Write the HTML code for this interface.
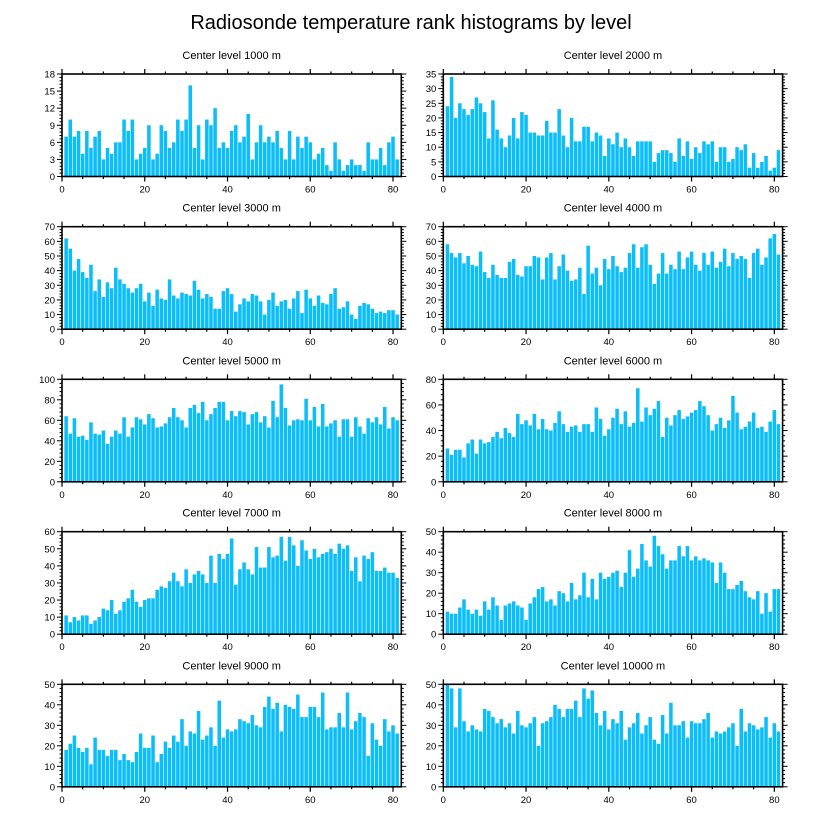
<!DOCTYPE html>
<html><head><meta charset="utf-8"><style>
body{margin:0;background:#fff;}
svg{display:block;font-family:"Liberation Sans",Arial,sans-serif;}
</style></head><body>
<svg id="chart" width="822" height="824" viewBox="0 0 822 824">
<rect width="822" height="824" fill="#fff"/>
<text x="411" y="29" text-anchor="middle" font-size="20">Radiosonde temperature rank histograms by level</text>
</svg>
<script>
const levels = [1000,2000,3000,4000,5000,6000,7000,8000,9000,10000];
const yMaxes = [18,35,70,70,100,80,60,50,50,50];
const yStepMajor = [3,5,10,10,20,20,10,10,10,10];
const xTicks = [0,20,40,60,80];
const s1000 = [7,10,7,8,4,8,5,7,8,3,5,4,6,6,10,8,10,3,4,5,9,3,4,9,8,5,6,10,8,10,16,5,9,3,10,9,12,5,6,5,8,9,6,7,11,3,6,9,6,7,6,8,5,3,8,3,7,5,7,6,3,4,5,2,1,6,3,1,2,3,2,2,1,6,3,3,5,2,6,7,3];
const s2000 = [24,34,20,25,23,21,23,27,25,22,13,26,16,13,10,14,20,13,22,21,15,15,14,14,19,15,15,23,14,10,20,12,12,17,17,12,15,14,7,13,11,15,10,13,10,7,12,12,12,12,5,8,9,9,8,5,13,7,12,6,10,8,12,11,12,5,10,10,5,6,10,9,11,3,8,3,5,7,2,3,9];
const s3000 = [62,55,40,48,39,35,44,26,34,22,32,28,42,34,31,28,25,28,31,19,25,16,27,21,20,34,23,21,25,24,23,33,27,21,24,22,14,14,26,28,24,12,17,21,19,24,23,19,10,20,25,16,19,20,14,21,26,11,27,21,16,23,18,17,24,28,14,15,19,10,7,16,18,17,14,11,12,11,13,13,10];
const s4000 = [58,52,49,52,45,50,44,43,53,39,35,44,37,35,35,46,48,37,36,43,43,50,49,34,49,52,34,43,51,40,33,34,42,24,57,38,42,30,48,41,50,43,39,42,52,58,42,56,58,44,31,38,52,38,44,41,53,41,49,53,44,40,52,44,53,42,46,55,43,52,48,50,48,35,52,55,44,49,62,65,51];
const s5000 = [64,47,62,44,45,41,58,47,46,50,37,44,50,47,63,44,53,63,61,56,66,62,53,54,57,63,72,63,60,53,72,75,67,78,60,66,72,78,78,60,69,64,69,68,56,66,68,58,64,53,79,63,95,72,55,60,61,60,81,60,73,54,76,54,57,60,44,61,61,44,63,54,47,62,58,63,56,73,52,63,60];
const s6000 = [26,21,25,25,19,30,33,22,33,30,31,35,39,34,42,38,35,53,45,48,44,53,41,49,41,40,46,55,45,39,43,44,39,45,45,39,58,49,36,41,50,57,45,55,43,46,73,47,58,52,57,63,35,50,44,52,56,49,51,54,56,63,59,52,40,45,50,42,48,67,54,41,43,47,54,42,43,39,47,56,45];
const s7000 = [11,7,10,8,11,11,6,8,10,15,14,20,12,14,19,21,26,19,16,20,21,21,26,28,27,31,36,31,28,38,30,35,37,35,30,46,30,47,44,47,56,29,38,42,38,35,51,39,39,51,45,46,57,43,57,52,40,55,49,44,50,45,47,48,50,47,53,50,52,37,45,31,46,44,48,37,37,39,36,36,33];
const s8000 = [11,10,10,13,17,12,10,12,9,16,12,18,14,7,14,15,16,14,13,7,15,18,22,23,16,17,14,21,20,16,25,17,19,30,18,27,17,30,27,28,30,31,23,30,41,28,32,44,36,33,48,43,39,32,36,36,43,38,43,36,38,36,37,36,35,25,35,30,22,22,24,26,21,18,17,21,10,20,11,22,22];
const s9000 = [18,21,25,19,17,19,11,24,18,18,15,18,18,13,16,13,12,17,26,19,19,25,12,16,22,19,25,22,33,20,27,26,37,23,25,29,20,42,24,28,27,28,33,32,31,35,30,29,39,44,38,41,27,40,39,38,45,34,34,39,39,34,46,28,29,29,36,29,46,28,32,36,34,15,31,23,20,33,27,30,26];
const s10000 = [50,48,29,48,32,27,30,28,27,38,37,34,31,33,29,31,26,37,30,29,31,34,20,31,32,34,40,38,34,38,38,42,34,48,43,47,36,30,37,28,33,31,37,23,29,31,36,26,30,34,23,21,35,26,41,30,30,32,24,32,31,31,33,36,24,27,26,27,29,31,20,38,27,31,30,28,29,34,24,31,27];
const seriesList = [s1000,s2000,s3000,s4000,s5000,s6000,s7000,s8000,s9000,s10000];

const NS = "http://www.w3.org/2000/svg";
const svg = document.getElementById('chart');
function mk(tag, attrs, parent){
  const e = document.createElementNS(NS, tag);
  for (const k in attrs) e.setAttribute(k, attrs[k]);
  parent.appendChild(e);
  return e;
}
const colX = [62, 443.3];
const rowY = [74, 226.7, 379.3, 531.7, 684.3];
const PW = 339.3, PH = 102.5, XMAX = 82;

seriesList.forEach((data, p) => {
  const L = colX[p % 2], T = rowY[Math.floor(p / 2)];
  const yMax = yMaxes[p], step = yStepMajor[p];
  const xs = v => L + v / XMAX * PW;
  const ys = v => T + PH - v / yMax * PH;
  const g = mk('g', {}, svg);
  
  
  const title = mk('text', {x: L + PW / 2, y: T - 15, 'text-anchor': 'middle', 'font-size': 11}, g);
  
  
  title.textContent = 'Center level ' + levels[p] + ' m';
  // bars
  const bw = PW / XMAX;
  data.forEach((v, i) => {
    const c = i + 1;
    const r = mk('rect', {x: xs(c - 0.5) + 0.3, y: ys(v), width: bw - 0.6, height: ys(0) - ys(v), fill: '#0bbef9'}, g);
    
    
  });
  // frame
  const fr = mk('rect', {x: L, y: T, width: PW, height: PH, fill: 'none', stroke: '#000', 'stroke-width': 1.6}, g);
  
  
  // x ticks
  for (let v = 0; v <= 80; v += 5) {
    const major = v % 20 === 0, len = major ? 5 : 2.5, x = xs(v);
    mk('line', {x1: x, x2: x, y1: T + PH, y2: T + PH + len, stroke: '#000', 'stroke-width': 1.2}, g);
    mk('line', {x1: x, x2: x, y1: T, y2: T - len, stroke: '#000', 'stroke-width': 1.2}, g);
  }
  xTicks.forEach(v => {
    const t = mk('text', {x: xs(v), y: T + PH + 16, 'text-anchor': 'middle', 'font-size': 9.5}, g);
    
    
    t.textContent = v;
  });
  // y ticks
  const minor = step / 5;
  for (let k = 0; k * minor <= yMax + 1e-9; k++) {
    const v = k * minor, major = k % 5 === 0, len = major ? 5 : 2.5, y = ys(v);
    mk('line', {x1: L, x2: L - len, y1: y, y2: y, stroke: '#000', 'stroke-width': 1}, g);
    mk('line', {x1: L + PW, x2: L + PW + len, y1: y, y2: y, stroke: '#000', 'stroke-width': 1}, g);
  }
  for (let v = 0; v <= yMax + 1e-9; v += step) {
    const t = mk('text', {x: L - 7, y: ys(v) + 3.5, 'text-anchor': 'end', 'font-size': 9.5}, g);
    
    
    t.textContent = v;
  }
});
</script>
</body></html>
